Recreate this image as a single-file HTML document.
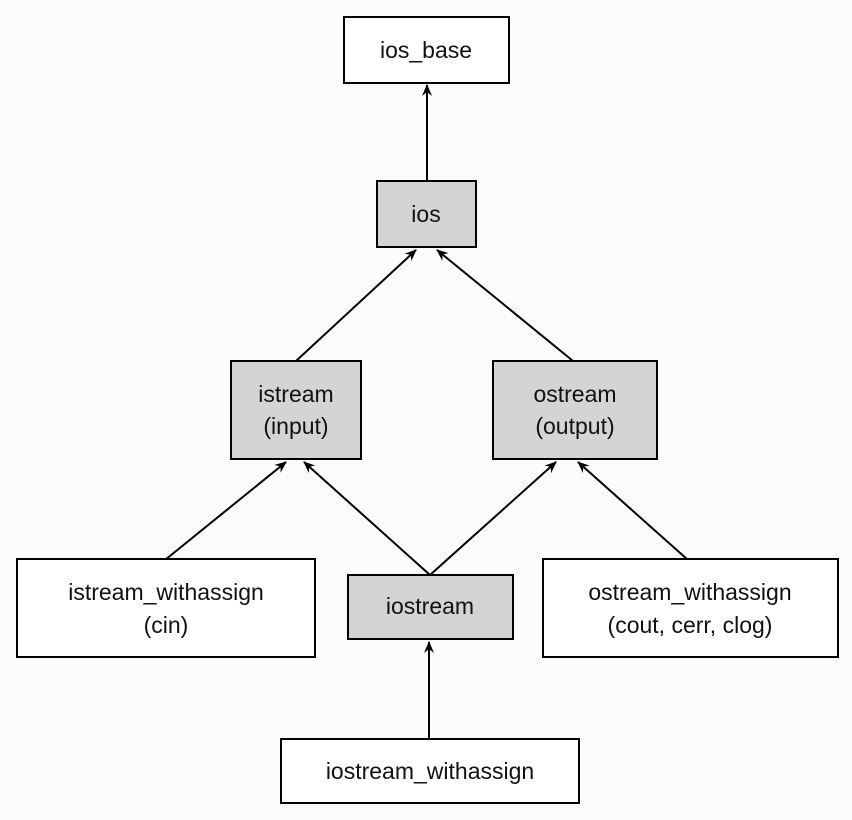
<!DOCTYPE html>
<html><head><style>
body{margin:0;background:#fbfbfb;}
svg{display:block}
text{font-family:"Liberation Sans",sans-serif;font-size:23px;fill:#111;text-anchor:middle}
</style></head><body>
<svg width="852" height="820" viewBox="0 0 852 820">
<defs>
<marker id="a" viewBox="0 0 12 12" refX="11" refY="6" markerWidth="12" markerHeight="12" markerUnits="userSpaceOnUse" orient="auto">
<path d="M0,1 L12,6 L0,11 L4,6 Z" fill="#000"/>
</marker>
</defs>
<g stroke="#000" stroke-width="2" fill="none" marker-end="url(#a)">
<line x1="427" y1="181" x2="427" y2="85"/>
<line x1="296" y1="361" x2="416" y2="250"/>
<line x1="573" y1="361" x2="437" y2="250"/>
<line x1="165" y1="560" x2="286" y2="462"/>
<line x1="430" y1="575" x2="304" y2="462"/>
<line x1="430" y1="575" x2="556" y2="462"/>
<line x1="688" y1="560" x2="578" y2="462"/>
<line x1="429" y1="739" x2="429" y2="642"/>
</g>
<g stroke="#000" stroke-width="2">
<rect x="344" y="17" width="165" height="66" fill="#fff"/>
<rect x="377" y="181" width="99" height="66" fill="#d4d4d4"/>
<rect x="231" y="361" width="130" height="98" fill="#d4d4d4"/>
<rect x="493" y="361" width="164" height="98" fill="#d4d4d4"/>
<rect x="17" y="559" width="298" height="98" fill="#fff"/>
<rect x="348" y="575" width="165" height="64" fill="#d4d4d4"/>
<rect x="543" y="559" width="295" height="98" fill="#fff"/>
<rect x="281" y="739" width="298" height="64" fill="#fff"/>
</g>
<text x="426" y="58">ios_base</text>
<text x="426" y="222">ios</text>
<text x="296" y="402">istream</text>
<text x="296" y="434">(input)</text>
<text x="575" y="402">ostream</text>
<text x="575" y="434">(output)</text>
<text x="166" y="600">istream_withassign</text>
<text x="166" y="633">(cin)</text>
<text x="430" y="614">iostream</text>
<text x="690" y="600">ostream_withassign</text>
<text x="690" y="633">(cout, cerr, clog)</text>
<text x="430" y="779">iostream_withassign</text>
</svg>
</body></html>
